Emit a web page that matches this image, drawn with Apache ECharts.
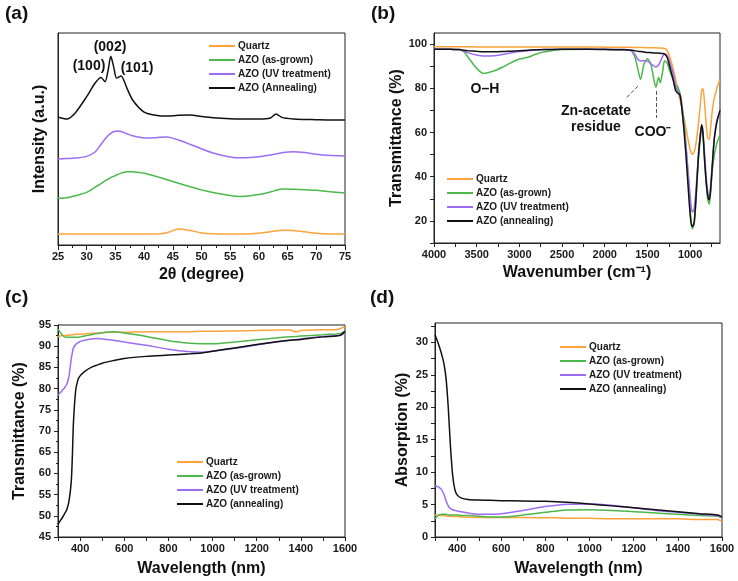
<!DOCTYPE html>
<html>
<head>
<meta charset="utf-8">
<title>AZO films</title>
<script src="https://cdn.jsdelivr.net/npm/echarts@6/dist/echarts.min.js"></script>
<style>
  html, body { margin: 0; padding: 0; background: #fff; }
  #main { width: 738px; height: 581px; }
</style>
</head>
<body>
<div id="main"></div>
<script>
// ---- (a) XRD ----
var xrdTheta = [25, 26.5, 28, 30, 31.5, 32.5, 33.2, 33.7, 34.2, 34.7, 35.2, 36, 37, 38, 40, 42, 44, 46, 48, 50, 52, 55, 57, 60, 62, 63, 64, 66, 68, 70, 72, 75]
var xrdQuartz = [5.2, 5.2, 5.2, 5.2, 5.2, 5.2, 5.2, 5.2, 5.2, 5.2, 5.2, 5.2, 5.2, 5.2, 5.2, 5.2, 5.8, 7.5, 6.8, 5.7, 5.3, 5.2, 5.2, 5.6, 6.3, 6.7, 7, 6.8, 6.2, 5.5, 5.2, 5.2]
var xrdAsGrown = [22, 22.3, 23.2, 24.8, 27.3, 29, 30.3, 31, 31.8, 32.4, 33, 33.9, 34.6, 34.5, 33.8, 32.4, 30.8, 29.1, 27.5, 26, 24.8, 23.4, 22.9, 23.8, 25, 25.8, 26.4, 26.3, 26.1, 25.8, 25.2, 24.5]
var xrdUV = [40.6, 40.8, 41, 41.8, 44, 47.5, 50, 51.5, 52.7, 53.4, 53.8, 53.5, 52.5, 51.5, 50.5, 50.6, 51, 49.5, 47.5, 45.4, 43.4, 41.5, 41.1, 41.6, 42.4, 42.9, 43.5, 44, 43.6, 42.8, 42.3, 42]
var xrdAnneal = [60.4, 59.4, 62.3, 70, 76.5, 79, 77, 82, 89, 84, 78.7, 79.7, 74, 68.4, 62.7, 61.2, 60.8, 61.2, 61.3, 60.6, 60, 59.5, 59.4, 59.4, 59.9, 61.8, 60.2, 59.4, 59.2, 59.1, 59, 59]

// ---- (b) FTIR ----
var ftirWn = [4000, 3800, 3700, 3650, 3600, 3500, 3420, 3300, 3200, 3100, 3000, 2900, 2800, 2700, 2500, 2200, 2000, 1800, 1700, 1650, 1620, 1580, 1540, 1500, 1460, 1420, 1400, 1370, 1350, 1320, 1300, 1270, 1240, 1200, 1170, 1150, 1120, 1100, 1070, 1040, 1010, 990, 975, 955, 940, 920, 900, 880, 865, 850, 830, 810, 790, 775, 760, 740, 720, 700, 680, 650]
var ftirQuartz = [98.8, 98.8, 98.8, 98.8, 98.8, 98.7, 98.7, 98.7, 98.7, 98.7, 98.7, 98.7, 98.7, 98.7, 98.7, 98.7, 98.6, 98.5, 98.5, 98.4, 98.4, 98.4, 98.4, 98.3, 98.3, 98.3, 98.3, 98.2, 98.2, 98.1, 98, 97.2, 94.5, 89, 84, 80, 75, 72, 66, 60, 54, 51, 50.2, 51, 53, 58, 65, 73, 79, 80, 73, 63, 57, 57, 62, 70, 75, 78, 81, 84]
var ftirAsGrown = [97.8, 97.7, 97.5, 96.5, 94, 89, 86.7, 87.8, 89.5, 91.5, 93.2, 94, 95.5, 96.5, 97.5, 97.7, 97.6, 97.5, 97.2, 94.5, 90, 84, 91, 93.3, 91, 83, 80.5, 85, 82.5, 88, 92.5, 91.5, 88, 84, 81.5, 81, 78, 74, 64, 50, 32, 20, 16.5, 18, 24, 37, 49, 57, 61.5, 59, 48, 36, 29, 27.5, 33, 43, 49, 53, 56, 59]
var ftirUV = [97.8, 97.6, 97.4, 96.8, 96, 95, 94.6, 94.7, 95.3, 96, 96.6, 97, 97.3, 97.5, 97.7, 97.7, 97.7, 97.5, 97.2, 95.5, 93.5, 92.3, 92.5, 92.3, 91, 90, 89.6, 90.5, 92, 94.5, 95.5, 95, 92, 87, 81, 79, 77, 72, 62, 50, 36, 27, 24, 25, 30, 40, 51, 59, 63, 60, 50, 39, 32, 30.5, 36, 46, 56, 62, 66, 69]
var ftirAnneal = [97.7, 97.6, 97.5, 97.2, 97, 96.7, 96.5, 96.5, 96.6, 96.8, 97, 97.2, 97.4, 97.5, 97.6, 97.6, 97.5, 97.4, 97.3, 97, 96.8, 96.6, 96.4, 96.2, 96.1, 96, 96, 95.9, 95.8, 95.7, 95.5, 94, 90, 84, 79, 78, 77, 72, 60, 45, 28, 19.5, 17.5, 19, 25, 38, 51, 59, 63.5, 60, 47, 37, 30.5, 29.5, 34, 45, 56, 62, 66, 70]
var ftirTicks = [1000, 1500, 2000, 2500, 3000, 3500, 4000]
var ftirYTicks = [20, 40, 60, 80, 100]

// ---- (c) transmittance ----
var transWl = [300, 310, 320, 330, 340, 350, 360, 365, 370, 380, 390, 400, 420, 450, 480, 500, 550, 600, 700, 800, 900, 950, 1000, 1100, 1200, 1300, 1350, 1380, 1400, 1500, 1560, 1580, 1600]
var transQuartz = [92.3, 92.4, 92.5, 92.5, 92.6, 92.6, 92.7, 92.7, 92.7, 92.8, 92.8, 92.8, 92.9, 93, 93.1, 93.2, 93.3, 93.3, 93.4, 93.4, 93.4, 93.5, 93.5, 93.6, 93.7, 93.8, 93.8, 93.4, 93.7, 93.9, 93.9, 94.2, 94.6]
var transAsGrown = [94, 93.3, 92.6, 92.2, 92.1, 92.1, 92.1, 92.1, 92.1, 92.1, 92.1, 92.2, 92.4, 92.7, 93, 93.2, 93.4, 93.1, 92.3, 91.3, 90.7, 90.6, 90.6, 91, 91.5, 92, 92.2, 92.3, 92.4, 92.7, 92.9, 93, 93.6]
var transUV = [78.5, 79, 79.6, 80.2, 81, 83, 87, 88.5, 89.6, 90.4, 90.8, 91.1, 91.4, 91.7, 91.8, 91.7, 91.4, 91, 90.2, 89.3, 88.7, 88.6, 88.8, 89.5, 90.3, 91.1, 91.4, 91.6, 91.7, 92.3, 92.5, 92.6, 93.2]
var transAnneal = [48, 48.8, 49.6, 50.5, 51.5, 53.5, 58, 64, 72, 79.5, 82, 83, 84, 85, 85.6, 86, 86.6, 87.1, 87.6, 87.9, 88.2, 88.4, 88.8, 89.6, 90.4, 91.1, 91.4, 91.5, 91.6, 92.2, 92.4, 92.6, 93.5]

// ---- (d) absorption ----
var absWl = [300, 310, 320, 330, 340, 350, 360, 370, 380, 390, 400, 420, 450, 500, 550, 600, 700, 800, 850, 900, 1000, 1100, 1200, 1300, 1400, 1500, 1580, 1600]
var absQuartz = [3.4, 3.4, 3.35, 3.3, 3.3, 3.25, 3.2, 3.2, 3.2, 3.15, 3.15, 3.1, 3.05, 3, 3, 3, 3, 2.95, 2.95, 2.9, 2.9, 2.8, 2.8, 2.8, 2.8, 2.7, 2.7, 2.4]
var absAsGrown = [2.8, 3.2, 3.4, 3.5, 3.5, 3.5, 3.4, 3.4, 3.4, 3.4, 3.4, 3.3, 3.3, 3.2, 3.1, 3.1, 3.4, 3.8, 4, 4.15, 4.2, 4.1, 3.9, 3.7, 3.5, 3.3, 3.2, 2.9]
var absUV = [7.9, 7.8, 7.6, 7.3, 6.6, 5.6, 4.8, 4.4, 4.2, 4.1, 4, 3.9, 3.7, 3.5, 3.5, 3.6, 4.1, 4.7, 4.9, 5.05, 5.1, 4.9, 4.5, 4.1, 3.8, 3.5, 3.3, 2.9]
var absAnneal = [31.2, 30.3, 29.3, 28.2, 26.8, 24.5, 20, 14, 9.5, 7.3, 6.5, 6, 5.8, 5.7, 5.65, 5.6, 5.55, 5.5, 5.45, 5.35, 5.1, 4.8, 4.5, 4.2, 3.9, 3.6, 3.4, 3.1]

var wlTicks = [400, 600, 800, 1000, 1200, 1400, 1600]
var absYTicks = [0, 5, 10, 15, 20, 25, 30]

var names = ['Quartz', 'AZO (as-grown)', 'AZO (UV treatment)', 'AZO (annealing)']
var namesA = ['Quartz', 'AZO (as-grown)', 'AZO (UV treatment)', 'AZO (Annealing)']
var colors = ['#ffa23a', '#4cb84c', '#9d6cf5', '#111111']

var FONT = 'Liberation Sans, Arial, sans-serif'

function zip(xs, ys) {
  return xs.map(function(x, i) {
    return [x, ys[i]]
  })
}

function range(a, b, step) {
  var out = []
  for (var v = a; v <= b + 1e-9; v += step) out.push(v)
  return out
}

// plain numbers, no thousands separator
function plain(v) {
  return String(v)
}

function mkSeries(gi, nm, xs, ys, ci) {
  return {
    name: nm,
    type: 'line',
    xAxisIndex: gi,
    yAxisIndex: gi,
    data: zip(xs, ys),
    showSymbol: false,
    smooth: 0.25,
    lineStyle: { color: colors[ci], width: 1.5 },
    itemStyle: { color: colors[ci] },
    z: 2 + ci
  }
}

var labelStyle = { color: '#1a1a1a', fontWeight: 'bold', fontSize: 11, fontFamily: FONT, formatter: plain }
var nameStyle = { color: '#111', fontWeight: 'bold', fontSize: 16, fontFamily: FONT }
var lineBlack = { show: true, onZero: false, lineStyle: { color: '#222', width: 1 } }

function legendAt(left, top, data) {
  return {
    data: data,
    left: left,
    top: top,
    orient: 'vertical',
    icon: 'rect',
    itemWidth: 26,
    itemHeight: 2,
    itemGap: 4,
    selectedMode: false,
    padding: 0,
    textStyle: { fontSize: 10, fontWeight: 'bold', color: '#1a1a1a', fontFamily: FONT, padding: [0, 0, 0, -2] }
  }
}

function panelLabel(txt, x, y) {
  return {
    type: 'text',
    left: x,
    top: y,
    style: { text: txt, fill: '#111', font: 'bold 19px ' + FONT }
  }
}

function note(txt, cx, cy) {
  return {
    type: 'text',
    x: cx,
    y: cy,
    style: {
      text: txt,
      font: 'bold 14px ' + FONT,
      fill: '#111',
      align: 'center',
      verticalAlign: 'middle'
    }
  }
}

var option = {
  backgroundColor: '#fff',
  animation: false,
  grid: [
    { left: 58, top: 33, width: 287, height: 212, show: true, borderColor: '#222', borderWidth: 1 },
    { left: 434, top: 33, width: 286, height: 210, show: true, borderColor: '#222', borderWidth: 1 },
    { left: 58, top: 325, width: 287, height: 212, show: true, borderColor: '#222', borderWidth: 1 },
    { left: 435, top: 323, width: 287, height: 214, show: true, borderColor: '#222', borderWidth: 1 }
  ],
  legend: [
    legendAt(209, 41, namesA),
    legendAt(447, 174, names),
    legendAt(177, 457, names),
    legendAt(560, 342, names)
  ],
  xAxis: [
    {
      gridIndex: 0, type: 'value', min: 25, max: 75, interval: 5,
      axisLine: lineBlack, splitLine: { show: false },
      axisTick: { length: 5, lineStyle: { color: '#222' } },
      minorTick: { show: true, splitNumber: 2, length: 3, lineStyle: { color: '#222' } },
      axisLabel: Object.assign({ margin: 6 }, labelStyle),
      name: '2θ (degree)', nameLocation: 'middle', nameGap: 22, nameTextStyle: nameStyle
    },
    {
      gridIndex: 1, type: 'value', min: 650, max: 4000, inverse: true,
      axisLine: lineBlack, splitLine: { show: false },
      axisTick: { length: 4, customValues: range(750, 4000, 250), lineStyle: { color: '#222' } },
      axisLabel: Object.assign({ margin: 6, customValues: ftirTicks }, labelStyle),
      name: 'Wavenumber (cm⁻¹)', nameLocation: 'middle', nameGap: 22, nameTextStyle: nameStyle
    },
    {
      gridIndex: 2, type: 'value', min: 300, max: 1600,
      axisLine: lineBlack, splitLine: { show: false },
      axisTick: { length: 4, customValues: range(300, 1600, 100), lineStyle: { color: '#222' } },
      axisLabel: Object.assign({ margin: 6, customValues: wlTicks }, labelStyle),
      name: 'Wavelength (nm)', nameLocation: 'middle', nameGap: 24, nameTextStyle: nameStyle
    },
    {
      gridIndex: 3, type: 'value', min: 300, max: 1600,
      axisLine: lineBlack, splitLine: { show: false },
      axisTick: { length: 4, customValues: range(300, 1600, 100), lineStyle: { color: '#222' } },
      axisLabel: Object.assign({ margin: 6, customValues: wlTicks }, labelStyle),
      name: 'Wavelength (nm)', nameLocation: 'middle', nameGap: 24, nameTextStyle: nameStyle
    }
  ],
  yAxis: [
    {
      gridIndex: 0, type: 'value', min: 0, max: 100,
      axisLine: lineBlack, splitLine: { show: false },
      axisTick: { show: false }, axisLabel: { show: false },
      name: 'Intensity (a.u.)', nameLocation: 'middle', nameGap: 10, nameTextStyle: nameStyle
    },
    {
      gridIndex: 1, type: 'value', min: 10, max: 105,
      axisLine: lineBlack, splitLine: { show: false },
      axisTick: { length: 4, customValues: range(10, 100, 10), lineStyle: { color: '#222' } },
      axisLabel: Object.assign({ margin: 7, customValues: ftirYTicks }, labelStyle),
      name: 'Transmittance (%)', nameLocation: 'middle', nameGap: 26, nameTextStyle: nameStyle
    },
    {
      gridIndex: 2, type: 'value', min: 45, max: 95, interval: 5,
      axisLine: lineBlack, splitLine: { show: false },
      axisTick: { length: 4, lineStyle: { color: '#222' } },
      minorTick: { show: true, splitNumber: 2, length: 2, lineStyle: { color: '#222' } },
      axisLabel: Object.assign({ margin: 7 }, labelStyle),
      name: 'Transmittance (%)', nameLocation: 'middle', nameGap: 30, nameTextStyle: nameStyle
    },
    {
      gridIndex: 3, type: 'value', min: 0, max: 33,
      axisLine: lineBlack, splitLine: { show: false },
      axisTick: { length: 4, customValues: range(0, 32.5, 2.5), lineStyle: { color: '#222' } },
      axisLabel: Object.assign({ margin: 7, customValues: absYTicks }, labelStyle),
      name: 'Absorption (%)', nameLocation: 'middle', nameGap: 24, nameTextStyle: nameStyle
    }
  ],
  series: [
    mkSeries(0, namesA[0], xrdTheta, xrdQuartz, 0),
    mkSeries(0, namesA[1], xrdTheta, xrdAsGrown, 1),
    mkSeries(0, namesA[2], xrdTheta, xrdUV, 2),
    mkSeries(0, namesA[3], xrdTheta, xrdAnneal, 3),

    mkSeries(1, names[0], ftirWn, ftirQuartz, 0),
    mkSeries(1, names[1], ftirWn, ftirAsGrown, 1),
    mkSeries(1, names[2], ftirWn, ftirUV, 2),
    mkSeries(1, names[3], ftirWn, ftirAnneal, 3),

    mkSeries(2, names[0], transWl, transQuartz, 0),
    mkSeries(2, names[1], transWl, transAsGrown, 1),
    mkSeries(2, names[2], transWl, transUV, 2),
    mkSeries(2, names[3], transWl, transAnneal, 3),

    mkSeries(3, names[0], absWl, absQuartz, 0),
    mkSeries(3, names[1], absWl, absAsGrown, 1),
    mkSeries(3, names[2], absWl, absUV, 2),
    mkSeries(3, names[3], absWl, absAnneal, 3)
  ],
  graphic: [
    panelLabel('(a)', 5, 4),
    panelLabel('(b)', 371, 4),
    panelLabel('(c)', 5, 288),
    panelLabel('(d)', 370, 288),
    note('(100)', 89, 66),
    note('(002)', 110, 47),
    note('(101)', 137, 68),
    note('O–H', 485, 89),
    note('Zn-acetate', 596, 111),
    note('residue', 596, 127),
    note('COO⁻', 653, 132)
  ]
}

// dashed pointers for the FTIR bands
option.series[7].markLine = {
  silent: true,
  symbol: 'none',
  label: { show: false },
  lineStyle: { type: 'dashed', color: '#555', width: 1 },
  data: [
    [{ coord: [1610, 81] }, { coord: [1750, 75.5] }],
    [{ coord: [1400, 78.8] }, { coord: [1400, 66.6] }]
  ]
}

var chart = echarts.init(document.getElementById('main'), null, { renderer: 'canvas' })
chart.setOption(option)
</script>
</body>
</html>
